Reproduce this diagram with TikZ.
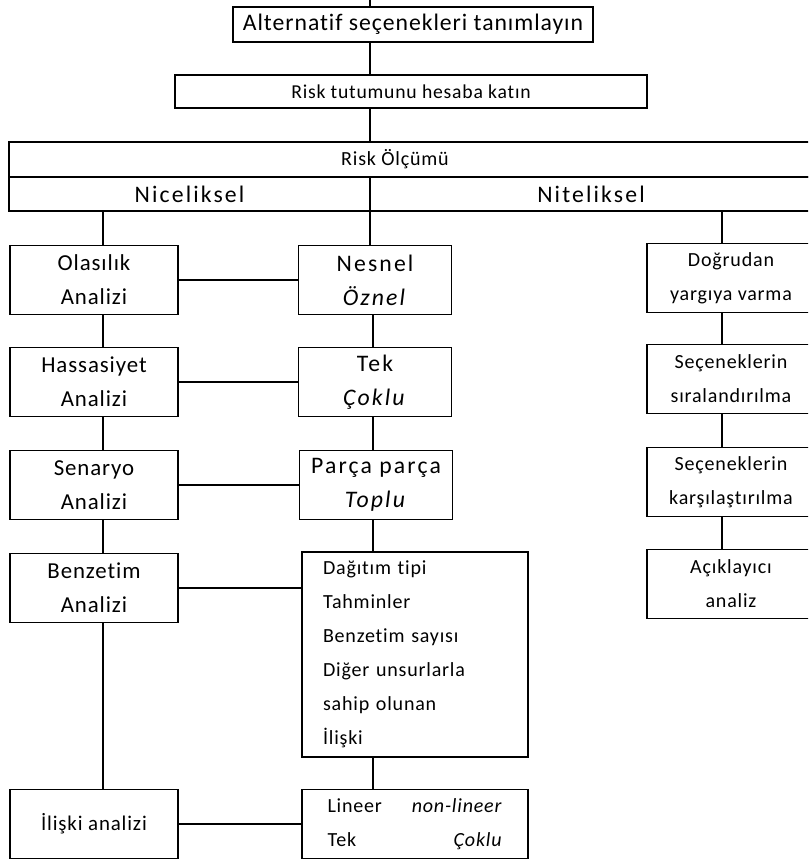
\documentclass[tikz,border=0pt]{standalone}
\usepackage{fontspec}
\setmainfont[LetterSpace=4, Ligatures=CommonOff]{Carlito}
\newfontfamily\genis[LetterSpace=9, Ligatures=CommonOff]{Carlito}
\usepackage{tikz}
\newcommand{\yazi}{\fontsize{11.4}{19.3}\selectfont}
\newcommand{\solyazi}{\fontsize{13}{19.3}\selectfont}
\newcommand{\genisyazi}{\genis\fontsize{13.5}{19.3}\selectfont}
\tikzset{
	kutu/.style={draw, line width=1pt, inner sep=0pt, align=center, font=\yazi},
	yan/.style={minimum width=3.36cm, minimum height=1.38cm},
	sol/.style={yan, font=\solyazi},
	orta/.style={minimum width=3.06cm, minimum height=1.38cm, font=\genisyazi},
	hat/.style={line width=1pt},
}

\begin{document}
\begin{tikzpicture}[x=0.02cm, y=-0.02cm]
			%%%%% START %%%%%
			
			\path[use as bounding box] (0, 0) rectangle (808, 862);
			\clip (0, 0) rectangle (808, 862);
			
			\coordinate (ust) at (370, 0);
			\coordinate (solx) at (103, 0);
			\coordinate (ortax) at (373, 0);
			\coordinate (sagx) at (722, 0);
			
			\node[kutu, font=\fontsize{13.5}{19.3}\selectfont, minimum width=7.2cm, minimum height=0.7cm] (alt) at (413, 24.5) {Alternatif seçenekleri tanımlayın};
			\node[kutu, font=\fontsize{11.2}{19.3}\selectfont, minimum width=9.44cm, minimum height=0.66cm] (tutum) at (411, 91.5) {Risk tutumunu hesaba katın};
			
			\node[kutu, minimum width=16.06cm, minimum height=0.7cm] (olcum) at (410.5, 159.5) {};
			\node[font=\yazi] (olcumyazi) at (395, 159.5) {Risk Ölçümü};
			\node[kutu, font=\genisyazi, minimum width=7.22cm, minimum height=0.68cm] (nicel) at (189.5, 194) {Niceliksel};
			\node[kutu, font=\genisyazi, minimum width=8.84cm, minimum height=0.68cm] (nitel) at (591, 194) {Niteliksel};
			
			% nicel yontemler
			\node[kutu, sol] (olasilik) at (94, 280) {Olasılık\\Analizi};
			\node[kutu, sol] (hassas) at (94, 382) {Hassasiyet\\Analizi};
			\node[kutu, sol] (senaryo) at (94, 485) {Senaryo\\Analizi};
			\node[kutu, sol] (benzetim) at (94, 588) {Benzetim\\Analizi};
			\node[kutu, yan, font=\fontsize{11.9}{19.3}\selectfont] (iliski) at (94, 824) {İlişki analizi};
			
			\node[kutu, orta] (nesnel) at (375, 280) {Nesnel\\\textit{Öznel}};
			\node[kutu, orta] (tek) at (375, 382) {Tek\\\textit{Çoklu}};
			\node[kutu, orta] (parca) at (376, 485) {Parça parça\\\textit{Toplu}};
			\node[kutu, align=left, text width=3.68cm, inner xsep=0.42cm, minimum height=4.1cm] (buyuk) at (415, 654.5) {Dağıtım tipi\\Tahminler\\Benzetim sayısı\\Diğer unsurlarla\\sahip olunan\\İlişki};
			\node[kutu, align=left, text width=3.5cm, inner xsep=0.51cm, minimum height=1.38cm] (lineer) at (415, 824) {Lineer\hfill\textit{non-lineer}\\Tek\hfill\textit{Çoklu}};
			
			% nitel yontemler
			\node[kutu, yan] (dogru) at (731, 278) {Doğrudan\\yargıya varma};
			\node[kutu, yan] (sira) at (731, 379) {Seçeneklerin\\sıralandırılma};
			\node[kutu, yan] (kars) at (731, 482) {Seçeneklerin\\karşılaştırılma};
			\node[kutu, yan] (acik) at (731, 584) {Açıklayıcı\\analiz};
			
			% baglantilar
			\draw[hat] (ust) -- (ust |- alt.north);
			\draw[hat] (alt.south -| ust) -- (tutum.north -| ust);
			\draw[hat] (tutum.south -| ust) -- (olcum.north -| ust);
			
			\draw[hat] (nicel.south -| solx) -- (olasilik.north -| solx);
			\draw[hat] (nicel.south -| ust) -- (nesnel.north -| ust);
			\draw[hat] (nitel.south -| sagx) -- (dogru.north -| sagx);
			
			\foreach \a/\b in {olasilik/hassas, hassas/senaryo, senaryo/benzetim, benzetim/iliski}
				\draw[hat] (\a.south -| solx) -- (\b.north -| solx);
			\foreach \a/\b in {nesnel/tek, tek/parca, parca/buyuk, buyuk/lineer}
				\draw[hat] (\a.south -| ortax) -- (\b.north -| ortax);
			\foreach \a/\b in {dogru/sira, sira/kars, kars/acik}
				\draw[hat] (\a.south -| sagx) -- (\b.north -| sagx);
			
			\draw[hat] (olasilik.east) -- (olasilik.east -| nesnel.west);
			\draw[hat] (hassas.east) -- (hassas.east -| tek.west);
			\draw[hat] (senaryo.east) -- (senaryo.east -| parca.west);
			\draw[hat] (benzetim.east) -- (benzetim.east -| buyuk.west);
			\draw[hat] (iliski.east) -- (iliski.east -| lineer.west);
			
			%%%%% END %%%%%
\end{tikzpicture}
\end{document}
